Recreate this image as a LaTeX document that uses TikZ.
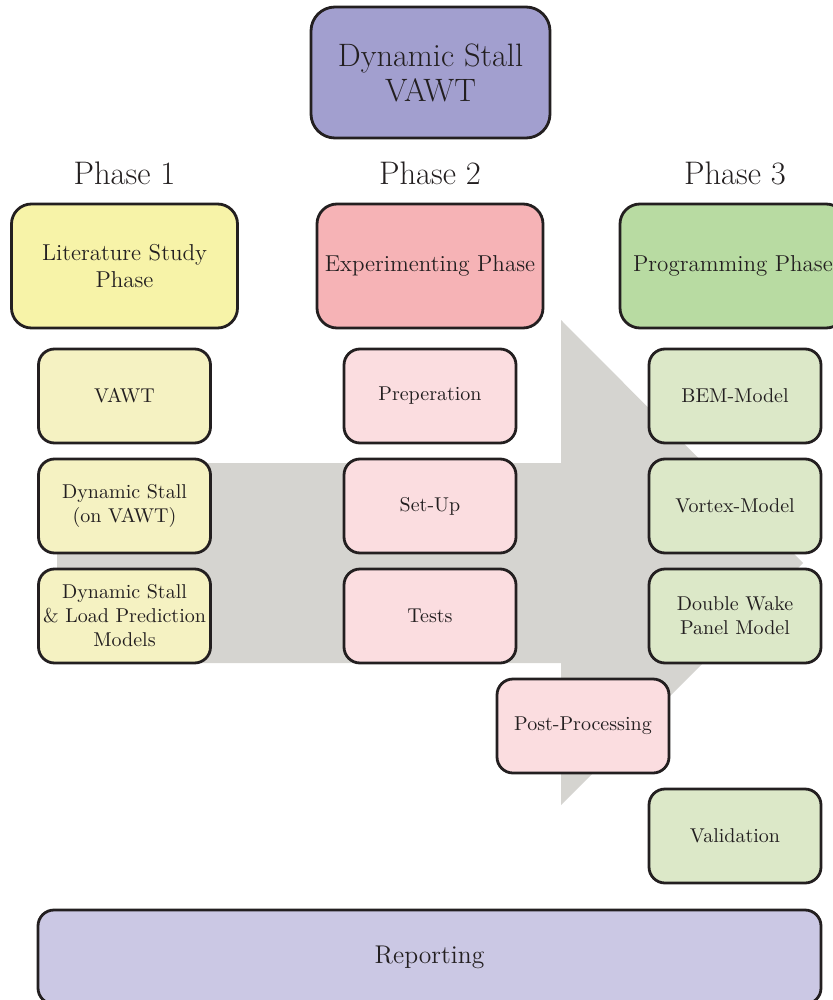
\documentclass[tikz,border=0pt]{standalone}
\usepackage{tikz}
\usetikzlibrary{calc}

\definecolor{edgecol}{HTML}{231F20}
\definecolor{arrowcol}{HTML}{D5D4D0}
\definecolor{topcol}{HTML}{A29FCF}
\definecolor{litcol}{HTML}{F7F3A8}
\definecolor{litlight}{HTML}{F5F2C2}
\definecolor{expcol}{HTML}{F6B3B6}
\definecolor{explight}{HTML}{FBDDE0}
\definecolor{progcol}{HTML}{B8DBA2}
\definecolor{proglight}{HTML}{DCE8C8}
\definecolor{repcol}{HTML}{CBC8E4}

\tikzset{
  box/.style={draw=edgecol, line width=1.4pt, align=center, inner sep=2pt, text=edgecol},
  subbox/.style={box, rounded corners=8pt, minimum width=86pt, minimum height=47pt,
    font=\fontsize{10}{12}\selectfont},
  phasebox/.style={box, rounded corners=10pt, minimum width=113pt, minimum height=62pt,
    font=\fontsize{11.5}{13.5}\selectfont},
  phaselabel/.style={font=\fontsize{16.3}{19}\selectfont, text=edgecol}
}

\begin{document}
\begin{tikzpicture}[x=0.5pt, y=-0.5pt]

 %%Paramaters
%% column and row positions, in pixels of the page
\def\colA{124.5}
\def\colB{430}
\def\colC{735}
\def\rowHead{266}
\def\rowOne{396}
\def\rowStep{110}

\useasboundingbox (0,0) rectangle (833,1000);
\clip (0,0) rectangle (833,1000);

%% Big grey arrow behind the boxes
\fill[arrowcol] (57,463) -- (561,463) -- (561,320) -- (803,563) -- (561,805)
  -- (561,663) -- (57,663) -- cycle;

%% Title
\node[box, rounded corners=12pt, fill=topcol, minimum width=119.5pt, minimum height=65.5pt,
  font=\fontsize{16.2}{17.5}\selectfont] (title) at (430.5, 72.5) {Dynamic Stall\\VAWT};

%% Phase labels
\node[phaselabel] (phaseA) at (\colA, 173) {Phase 1};
\node[phaselabel] (phaseB) at (\colB, 173) {Phase 2};
\node[phaselabel] (phaseC) at (\colC, 173) {Phase 3};

%% ***Phase 1 : Literature***
\node[phasebox, fill=litcol] (lit) at (\colA, \rowHead) {Literature Study\\Phase};
\node[subbox, fill=litlight] (vawt) at (\colA, \rowOne) {VAWT};
\node[subbox, fill=litlight] (stall) at ($(vawt) + (0, \rowStep)$) {Dynamic Stall\\(on VAWT)};
\node[subbox, fill=litlight] (models) at ($(stall) + (0, \rowStep)$) {Dynamic Stall\\\& Load Prediction\\Models};

%% ***Phase 2 : Experiments***
\node[phasebox, fill=expcol] (exp) at (\colB, \rowHead) {Experimenting Phase};
\node[subbox, fill=explight] (prep) at (\colB, \rowOne) {Preperation};
\node[subbox, fill=explight] (setup) at ($(prep) + (0, \rowStep)$) {Set-Up};
\node[subbox, fill=explight] (tests) at ($(setup) + (0, \rowStep)$) {Tests};
\node[subbox, fill=explight] (post) at (583, 726) {Post-Processing};

%% ***Phase 3 : Programming***
\node[phasebox, fill=progcol] (prog) at (733, \rowHead) {Programming Phase};
\node[subbox, fill=proglight] (bem) at (\colC, \rowOne) {BEM-Model};
\node[subbox, fill=proglight] (vortex) at ($(bem) + (0, \rowStep)$) {Vortex-Model};
\node[subbox, fill=proglight] (panel) at ($(vortex) + (0, \rowStep)$) {Double Wake\\Panel Model};
\node[subbox, fill=proglight] (valid) at ($(panel) + (0, 220)$) {Validation};

%% Reporting
\node[subbox, fill=repcol, minimum width=391.5pt, font=\fontsize{12.8}{15}\selectfont]
  (report) at (429.5, 957) {Reporting};

\end{tikzpicture}
\end{document}
